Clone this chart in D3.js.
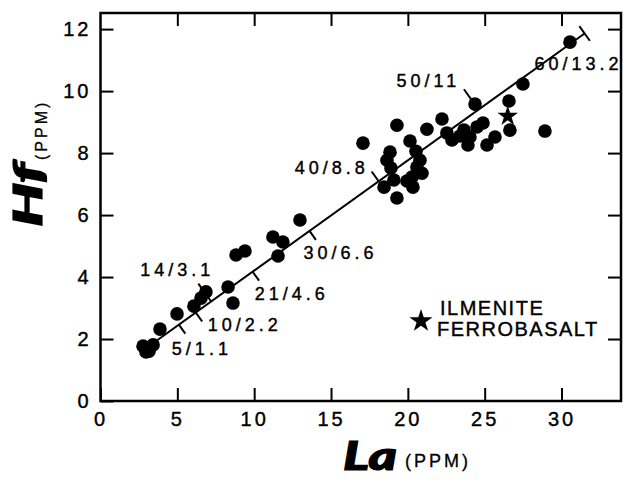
<!DOCTYPE html>
<html><head><meta charset="utf-8">
<script src="https://cdn.jsdelivr.net/npm/d3@7"></script>
<style>
body{margin:0;background:#fff;}
svg{display:block;}
text{font-family:"Liberation Sans",Arial,sans-serif;fill:#000;}
</style></head><body>
<svg id="chart" width="623" height="480"></svg>
<script>
// ---- data ----
const sampleLa = [2.77,3.16,3.42,2.96,3.87,4.98,6.08,6.54,6.86,8.30,8.62,8.82,9.40,11.22,11.87,11.55,12.98,
  17.08,19.29,21.24,18.84,18.64,18.90,18.45,19.29,19.09,19.94,20.33,20.14,20.53,20.79,20.59,20.27,20.92,
  22.22,22.54,22.87,23.39,23.65,24.04,24.50,24.89,23.91,24.37,25.15,25.67,26.58,26.64,27.49,28.92,30.55];
const sampleHf = [1.77,1.61,1.81,1.58,2.32,2.81,3.06,3.32,3.52,3.68,3.16,4.71,4.84,5.29,5.13,4.68,5.84,
  8.32,8.90,8.77,8.03,7.77,7.52,6.90,6.55,7.13,7.10,6.90,8.39,8.06,7.77,7.55,7.23,7.35,
  9.10,8.65,8.42,8.55,8.74,8.52,8.84,8.97,8.26,9.58,8.26,8.52,9.68,8.74,10.23,8.71,11.58];
const ilmeniteLa = [26.5];
const ilmeniteHf = [9.19];
const trendLa = [3.1, 31.5];
const trendHf = [1.75, 11.86];
const mixLabels = ["5/1.1","10/2.2","14/3.1","21/4.6","30/6.6","40/8.8","50/11","60/13.2"];
const mixLa = [5.1, 6.2, 7.2, 9.9, 13.6, 18.1, 24.6, 31.5];
const xTicks = [0,5,10,15,20,25,30];
const yTicks = [0,2,4,6,8,10,12];
const xDomain = [0, 33.87];
const yDomain = [0, 12.52];

// ---- layout ----
const L = 100.5, R = 621, T = 13, B = 401;
const svg = d3.select("#chart");
const x = d3.scaleLinear().domain(xDomain).range([L, R]);
const y = d3.scaleLinear().domain(yDomain).range([B, T]);
const tickLen = 13;

function styleAxis(g){
  g.select(".domain").remove();
  g.selectAll(".tick line").attr("stroke","#000").attr("stroke-width",2);
  g.selectAll(".tick text").attr("fill","#000").attr("stroke","#000").attr("stroke-width",0.4)
   .style("font-size","20px").style("letter-spacing","3px")
   .style("font-family",'"Liberation Sans",Arial,sans-serif');
}
svg.append("g").attr("transform",`translate(0,${B})`)
  .call(d3.axisBottom(x).tickValues(xTicks).tickSizeInner(-tickLen).tickSizeOuter(0).tickPadding(11).tickFormat(d3.format("d")))
  .call(styleAxis);
svg.append("g").attr("transform",`translate(${L},0)`)
  .call(d3.axisLeft(y).tickValues(yTicks).tickSizeInner(-tickLen).tickSizeOuter(0).tickPadding(9).tickFormat(d3.format("d")))
  .call(styleAxis);
svg.append("g").attr("transform",`translate(0,${T})`)
  .call(d3.axisTop(x).tickValues(xTicks.slice(1)).tickSizeInner(-tickLen).tickSizeOuter(0).tickFormat(""))
  .call(styleAxis);
svg.append("g").attr("transform",`translate(${R},0)`)
  .call(d3.axisRight(y).tickValues(yTicks.slice(1)).tickSizeInner(-tickLen).tickSizeOuter(0).tickFormat(""))
  .call(styleAxis);

svg.append("rect").attr("x",L).attr("y",T).attr("width",R-L).attr("height",B-T)
  .attr("fill","none").attr("stroke","#000").attr("stroke-width",2.5);

// trend line
const p0 = [x(trendLa[0]), y(trendHf[0])], p1 = [x(trendLa[1]), y(trendHf[1])];
svg.append("line").attr("x1",p0[0]).attr("y1",p0[1]).attr("x2",p1[0]).attr("y2",p1[1])
  .attr("stroke","#000").attr("stroke-width",2);
const dx = p1[0]-p0[0], dy = p1[1]-p0[1], len = Math.hypot(dx,dy);
const nx = -dy/len, ny = dx/len; // perpendicular (down-right)
const lineHf = la => trendHf[0] + (la-trendLa[0])*(trendHf[1]-trendHf[0])/(trendLa[1]-trendLa[0]);

// mixing ticks layout: [from, to] along perpendicular, label offset
const mixLayout = [
  {a:0,b:11, ox:-7, oy:30},
  {a:0,b:11, ox:12, oy:18},
  {a:-22,b:0, ox:-71, oy:-26},
  {a:0,b:11, ox:2, oy:28},
  {a:0,b:11, ox:-6, oy:28},
  {a:-12,b:0, ox:-84, oy:-7},
  {a:-25,b:0, ox:-82, oy:-23},
  {a:-9,b:9, ox:-50, oy:37}
];

// points
svg.append("g").selectAll("circle").data(sampleLa).join("circle")
  .attr("cx",(d)=>x(d)).attr("cy",(d,i)=>y(sampleHf[i])).attr("r",6.8).attr("fill","#000");

// star in plot
const star = d3.symbol().type(d3.symbolStar);
svg.append("g").selectAll("path").data(ilmeniteLa).join("path")
  .attr("d",star.size(130)())
  .attr("transform",(d,i)=>`translate(${x(d)},${y(ilmeniteHf[i])})`)
  .attr("fill","#000");

const mixG = svg.append("g");
mixLa.forEach((la,i)=>{
  const px = x(la), py = y(lineHf(la)), m = mixLayout[i];
  mixG.append("line")
    .attr("x1",px+nx*m.a).attr("y1",py+ny*m.a).attr("x2",px+nx*m.b).attr("y2",py+ny*m.b)
    .attr("stroke","#000").attr("stroke-width",2);
  mixG.append("text").attr("x",px+m.ox).attr("y",py+m.oy)
    .attr("stroke","#000").attr("stroke-width",0.4)
    .style("font-size","18px").style("letter-spacing","4px").text(mixLabels[i]);
});

// legend
svg.append("path").attr("d",d3.symbol().type(d3.symbolStar).size(165)())
  .attr("transform","translate(421,321)").attr("fill","#000");
svg.append("text").attr("x",440).attr("y",315).attr("stroke","#000").attr("stroke-width",0.4)
  .style("font-size","20px").style("letter-spacing","1.5px").text("ILMENITE");
svg.append("text").attr("x",437).attr("y",336).attr("stroke","#000").attr("stroke-width",0.4)
  .style("font-size","20px").style("letter-spacing","1.5px").text("FERROBASALT");

// axis titles
const heavy = 'Lato,"DejaVu Sans",sans-serif';
svg.append("text").attr("x",343).attr("y",470)
  .style("font-family",heavy).style("font-weight","900").style("font-style","italic")
  .style("font-size","40px").attr("textLength",54).attr("lengthAdjust","spacingAndGlyphs")
  .attr("stroke","#000").attr("stroke-width",1.2).text("La");
svg.append("text").attr("x",405).attr("y",467).attr("stroke","#000").attr("stroke-width",0.3)
  .style("font-size","18px").style("letter-spacing","3px").text("(PPM)");

svg.append("text").attr("transform","translate(42,227) rotate(-90)")
  .style("font-family",heavy).style("font-weight","900").style("font-style","italic")
  .style("font-size","40px").attr("textLength",64).attr("lengthAdjust","spacingAndGlyphs")
  .attr("stroke","#000").attr("stroke-width",1.2).text("Hf");
svg.append("text").attr("transform","translate(47,160) rotate(-90)").attr("stroke","#000").attr("stroke-width",0.3)
  .style("font-size","16px").style("letter-spacing","3px").text("(PPM)");
</script>
</body></html>
